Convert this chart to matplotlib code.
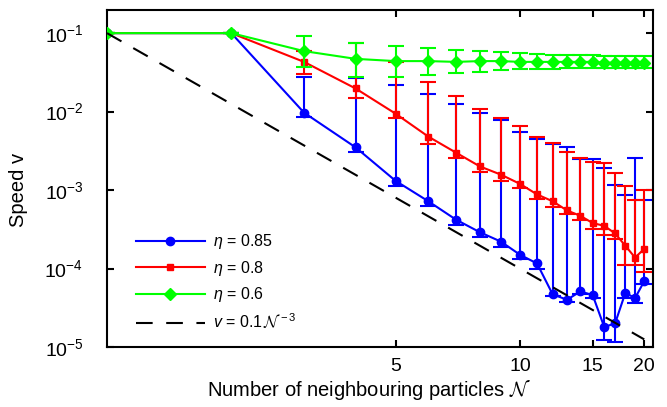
import matplotlib
matplotlib.use("Agg")
import matplotlib.pyplot as plt
import numpy as np
from matplotlib.ticker import NullLocator, FixedLocator, FixedFormatter

plt.rcParams["font.family"] = ["Liberation Sans", "DejaVu Sans"]
plt.rcParams["mathtext.fontset"] = "custom"
plt.rcParams["mathtext.rm"] = "Liberation Sans"
plt.rcParams["mathtext.it"] = "Liberation Sans:italic"
plt.rcParams["mathtext.cal"] = "cmsy10"

# number of neighbouring particles
n_vals = list(range(1, 21))

# eta = 0.85 (blue)
v_085 = [0.1, 0.1, 0.0097, 0.0035, 0.00131, 0.00072, 0.00042, 0.00029, 0.00022, 0.00015,
         0.000116, 4.7e-5, 4.0e-5, 5.1e-5, 4.6e-5, 1.8e-5, 2.0e-5, 4.9e-5, 4.2e-5, 6.9e-5]
hi_085 = [0.1, 0.1, 0.028, 0.027, 0.022, 0.0166, 0.0124, 0.0096, 0.0079, 0.0055,
          0.0045, 0.0039, 0.0035, 0.0025, 0.0025, 0.0019, 0.00117, 0.00087, 0.0026, 0.00074]
lo_085 = [0.1, 0.1, 0.0085, 0.0031, 0.00112, 0.00062, 0.00036, 0.00025, 0.00019, 0.000132,
          0.0001, 4.5e-5, 3.8e-5, 4.8e-5, 4.2e-5, 1.23e-5, 1.15e-5, 4.2e-5, 3.6e-5, 6.3e-5]

# eta = 0.8 (red)
v_08 = [0.1, 0.1, 0.043, 0.0197, 0.0094, 0.0048, 0.0030, 0.0020, 0.00157, 0.0012,
        0.00088, 0.00072, 0.00055, 0.00047, 0.00038, 0.00035, 0.00028, 0.000195, 0.000138, 0.000178]
hi_08 = [0.1, 0.1, 0.059, 0.074, 0.043, 0.024, 0.0157, 0.0107, 0.0084, 0.0065,
         0.0048, 0.0040, 0.0031, 0.0026, 0.0023, 0.0022, 0.00165, 0.00113, 0.00074, 0.0010]
lo_08 = [0.1, 0.1, 0.030, 0.0147, 0.0082, 0.0039, 0.0026, 0.0017, 0.00132, 0.00105,
         0.00076, 0.00061, 0.00049, 0.00041, 0.00032, 0.00027, 0.00024, 0.00011, 0.00011, 9.1e-5]

# eta = 0.6 (green)
v_06 = [0.1, 0.1, 0.059, 0.047, 0.044, 0.044, 0.043, 0.044, 0.044, 0.043,
        0.043, 0.043, 0.043, 0.043, 0.043, 0.042, 0.042, 0.042, 0.042, 0.042]
hi_06 = [0.1, 0.1, 0.092, 0.075, 0.069, 0.064, 0.061, 0.060, 0.057, 0.055,
         0.054, 0.053, 0.053, 0.052, 0.052, 0.051, 0.051, 0.051, 0.051, 0.051]
lo_06 = [0.1, 0.1, 0.037, 0.028, 0.028, 0.029, 0.031, 0.032, 0.034, 0.035,
         0.035, 0.035, 0.036, 0.036, 0.036, 0.036, 0.036, 0.036, 0.036, 0.036]

x_ticks = [5, 10, 15, 20]
y_ticks = [1e-5, 1e-4, 1e-3, 1e-2, 1e-1]

series = [
    ("$\\eta$ = 0.85", v_085, lo_085, hi_085, "#0000ff", "o", 6),
    ("$\\eta$ = 0.8", v_08, lo_08, hi_08, "#ff0000", "s", 5),
    ("$\\eta$ = 0.6", v_06, lo_06, hi_06, "#00ff00", "D", 6),
]

fig = plt.figure(figsize=(6.67, 4.07), dpi=100)
ax = fig.add_axes([0.1604, 0.1474, 0.8186, 0.828])

x = np.array(n_vals)
for z, (label, v, lo, hi, col, mk, ms) in enumerate(series):
    v = np.array(v); lo = np.array(lo); hi = np.array(hi)
    ax.errorbar(x, v, yerr=[v - lo, hi - v], fmt="none", ecolor=col,
                elinewidth=1.5, capsize=6, capthick=1.5, zorder=2 + 2 * z)
    ax.plot(x, v, color=col, marker=mk, ms=ms, lw=1.5, label=label, zorder=3 + 2 * z)

# reference power law
ax.plot(x, 0.1 * x.astype(float) ** -3, color="black", lw=1.5, dashes=(8, 6.5),
        label="$v$ = 0.1$\\,\\mathcal{N}^{\\,-3}$", zorder=10)

ax.set_xscale("log")
ax.set_yscale("log")
ax.set_xlim(1, 21)
ax.set_ylim(1e-5, 0.197)

ax.xaxis.set_major_locator(FixedLocator(x_ticks))
ax.xaxis.set_major_formatter(FixedFormatter([str(t) for t in x_ticks]))
ax.xaxis.set_minor_locator(NullLocator())
ax.yaxis.set_major_locator(FixedLocator(y_ticks))
ax.yaxis.set_minor_locator(NullLocator())

ax.tick_params(which="major", direction="in", top=True, right=True,
               length=5, width=1.5, labelsize=14)
ax.tick_params(axis="y", pad=17)
ax.tick_params(axis="x", pad=8)
for sp in ax.spines.values():
    sp.set_linewidth(1.5)

ax.set_xlabel("Number of neighbouring particles $\\mathcal{N}$", fontsize=14.5)
ax.set_ylabel("Speed v", fontsize=14.5)
ax.xaxis.set_label_coords(0.479, -0.093)
ax.yaxis.set_label_coords(-0.144, 0.466)

ax.legend(loc="upper left", bbox_to_anchor=(0.053, 0.341), frameon=False,
          fontsize=11.5, handlelength=4.3, handletextpad=0.5,
          borderpad=0, borderaxespad=0, labelspacing=0.47, numpoints=1)

fig.savefig("out.png", dpi=100)
